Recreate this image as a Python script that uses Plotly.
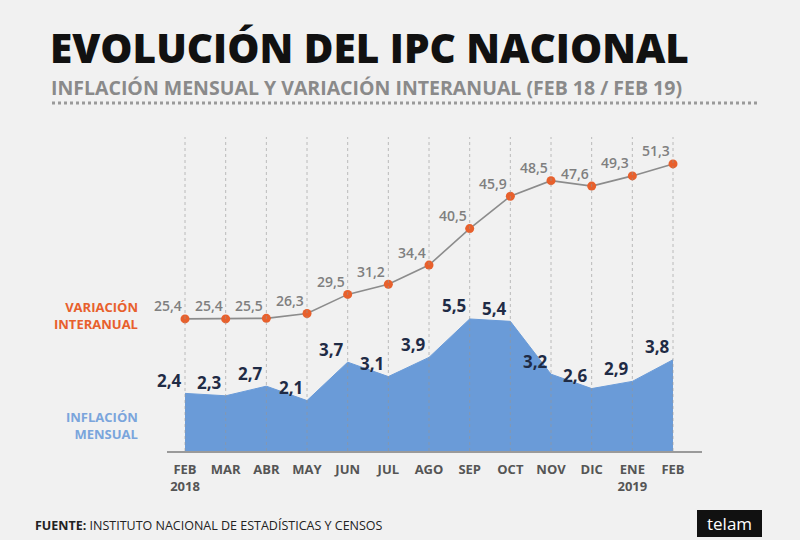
import plotly.graph_objects as go

# ── data ────────────────────────────────────────────────────────────────────
meses = ["FEB<br>2018", "MAR", "ABR", "MAY", "JUN", "JUL", "AGO",
         "SEP", "OCT", "NOV", "DIC", "ENE<br>2019", "FEB"]
inflacion_mensual = [2.4, 2.3, 2.7, 2.1, 3.7, 3.1, 3.9, 5.5, 5.4, 3.2, 2.6, 2.9, 3.8]
variacion_interanual = [25.4, 25.4, 25.5, 26.3, 29.5, 31.2, 34.4, 40.5, 45.9, 48.5, 47.6, 49.3, 51.3]

idx = list(range(len(meses)))

AZUL = "#6a9bd8"
NARANJA = "#e8602c"
FONT = "Open Sans"


def fmt(v):
    return f"{v:.1f}".replace(".", ",")


# plot area in pixels: x 167..702, y 137..451
L, R, T, B = 167, 702, 137, 451
W, H = R - L, B - T


def px(x):
    return (x - L) / W


def py(y):
    return (B - y) / H


fig = go.Figure()

fig.add_trace(go.Scatter(
    x=idx, y=inflacion_mensual,
    mode="lines", fill="tozeroy",
    line=dict(color=AZUL, width=1),
    fillcolor=AZUL,
    hoverinfo="skip",
))

fig.add_trace(go.Scatter(
    x=idx, y=variacion_interanual, yaxis="y2",
    mode="lines+markers",
    line=dict(color="#8c8c8c", width=1.6),
    marker=dict(color=NARANJA, size=9),
    hoverinfo="skip",
))

annotations = []

# value labels
for i, v in zip(idx, inflacion_mensual):
    annotations.append(dict(
        x=i, y=v, xref="x", yref="y", text=f"<b>{fmt(v)}</b>", showarrow=False,
        xshift=-16, yshift=13,
        font=dict(family=FONT, size=17, color="#1f2b45"),
    ))
for i, v in zip(idx, variacion_interanual):
    annotations.append(dict(
        x=i, y=v, xref="x", yref="y2", text=fmt(v), showarrow=False,
        xshift=-17, yshift=13,
        font=dict(family=FONT, size=14, color="#7f7f7f", weight=600),
    ))

# titles and side labels
annotations += [
    dict(x=px(49), y=py(48), xref="paper", yref="paper", xanchor="left", yanchor="middle",
         text="EVOLUCIÓN DEL IPC NACIONAL", showarrow=False, borderpad=0,
         font=dict(family=FONT, size=40.5, color="#111111", weight=800)),
    dict(x=px(50), y=py(87), xref="paper", yref="paper", xanchor="left", yanchor="middle",
         text="INFLACIÓN MENSUAL Y VARIACIÓN INTERANUAL (FEB 18 / FEB 19)", showarrow=False,
         borderpad=0,
         font=dict(family=FONT, size=19.5, color="#8a8a8a", weight=700)),
    dict(x=px(140), y=py(315), xref="paper", yref="paper", xanchor="right", yanchor="middle",
         text="VARIACIÓN<br>INTERANUAL", showarrow=False, align="right",
         font=dict(family=FONT, size=13, color=NARANJA, weight=700)),
    dict(x=px(140), y=py(425), xref="paper", yref="paper", xanchor="right", yanchor="middle",
         text="INFLACIÓN<br>MENSUAL", showarrow=False, align="right",
         font=dict(family=FONT, size=13, color="#7aa5dc", weight=700)),
    dict(x=px(33), y=py(525), xref="paper", yref="paper", xanchor="left", yanchor="middle",
         text="<b>FUENTE:</b> INSTITUTO NACIONAL DE ESTADÍSTICAS Y CENSOS", showarrow=False,
         font=dict(family=FONT, size=12.5, color="#222222")),
    dict(x=px(729), y=py(523), xref="paper", yref="paper", xanchor="center", yanchor="middle",
         text="telam", showarrow=False,
         font=dict(family=FONT, size=17, color="#ffffff")),
]

shapes = [
    # dotted rule under the subtitle
    dict(type="line", xref="paper", yref="paper", x0=px(52), x1=px(757), y0=py(103), y1=py(103),
         line=dict(color="#9a9a9a", width=3, dash="dot")),
    # telam box
    dict(type="rect", xref="paper", yref="paper", x0=px(697), x1=px(762), y0=py(537), y1=py(510),
         fillcolor="#111111", line=dict(width=0)),
]
# dotted month guides drawn over the area
for i in idx:
    shapes.append(dict(type="line", xref="x", yref="paper", x0=i, x1=i, y0=0, y1=1,
                       layer="above", line=dict(color="rgba(150,150,150,0.6)", width=1, dash="dot")))

fig.update_layout(
    width=800, height=540,
    margin=dict(l=L, r=800 - R, t=T, b=540 - B),
    paper_bgcolor="#f1f1f1",
    plot_bgcolor="rgba(0,0,0,0)",
    showlegend=False,
    font=dict(family=FONT),
    xaxis=dict(
        range=[-0.443, 12.713],
        tickvals=idx, ticktext=[f"<b>{m}</b>" for m in meses],
        tickfont=dict(family=FONT, size=13, color="#555555"),
        showgrid=False, zeroline=False,
        showline=True, linecolor="#9a9a9a", linewidth=2,
        ticks="outside", ticklen=5, tickcolor="rgba(0,0,0,0)",
        fixedrange=True,
    ),
    yaxis=dict(range=[0, 13.08], visible=False, fixedrange=True),
    yaxis2=dict(range=[3.33, 55.8], overlaying="y", visible=False, fixedrange=True),
    annotations=annotations,
    shapes=shapes,
)

# page body has an 8px default margin; drop it so the figure fills the window
fig.write_html("out.html", config={"displayModeBar": False},
               post_script="document.body.style.margin='0';")
